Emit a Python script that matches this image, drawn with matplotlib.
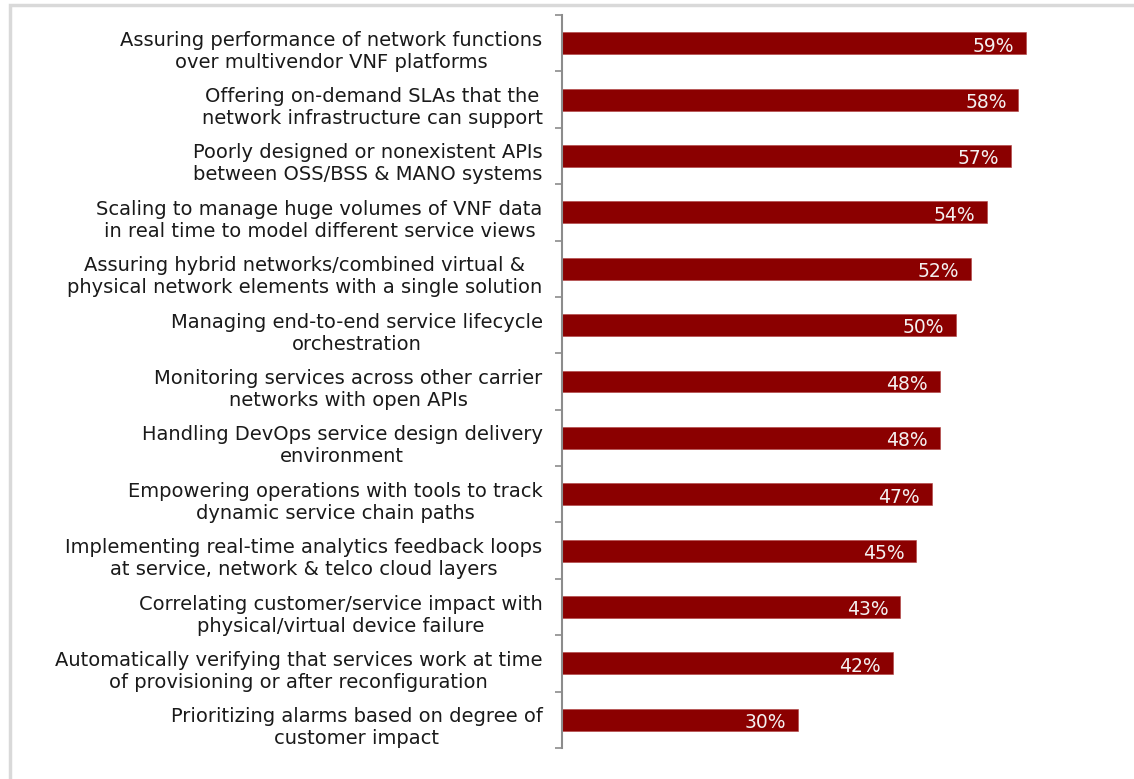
import numpy as np
import matplotlib.pyplot as plt
from matplotlib.patches import Rectangle

labels = [
    'Assuring performance of network functions\nover multivendor VNF platforms',
    'Offering on-demand SLAs that the\nnetwork infrastructure can support',
    'Poorly designed or nonexistent APIs\nbetween OSS/BSS & MANO systems',
    'Scaling to manage huge volumes of VNF data\nin real time to model different service views',
    'Assuring hybrid networks/combined virtual &\nphysical network elements with a single solution',
    'Managing end-to-end service lifecycle\norchestration',
    'Monitoring services across other carrier\nnetworks with open APIs',
    'Handling DevOps service design delivery\nenvironment',
    'Empowering operations with tools to track\ndynamic service chain paths',
    'Implementing real-time analytics feedback loops\nat service, network & telco cloud layers',
    'Correlating customer/service impact with\nphysical/virtual device failure',
    'Automatically verifying that services work at time\nof provisioning or after reconfiguration',
    'Prioritizing alarms based on degree of\ncustomer impact',
]
values = [59, 58, 57, 54, 52, 50, 48, 48, 47, 45, 43, 42, 30]

W, H = 1134, 779
fig = plt.figure(figsize=(W / 100, H / 100), dpi=100)

# light grey frame on top and left
fig.add_artist(Rectangle((10 / W, -0.01), 1.2, 1 - 5 / H + 0.01, transform=fig.transFigure,
                         fill=False, edgecolor='#d9d9d9', linewidth=2.5))

x0, x1 = 562, 562 + 7.87 * 70
ytop, ybot = 15, 748
ax = fig.add_axes([x0 / W, 1 - ybot / H, (x1 - x0) / W, (ybot - ytop) / H])

y = np.arange(len(values))
ax.barh(y, values, height=0.39, color='#8B0000', edgecolor='#b04040', linewidth=0.4)
ax.set_xlim(0, 70)
ax.set_ylim(len(values) - 0.5, -0.5)

for yi, v in zip(y, values):
    ax.text(v - 1.5, yi + 0.05, '{}%'.format(v), color='#f4f0f0', ha='right', va='center',
            fontsize=13.5)

# labels sit a little below the bar centre, as in the original
ax.set_yticks(y + 0.08)
ax.set_yticklabels(labels, fontsize=14, color='#1a1a1a', ha='right',
                   multialignment='center', linespacing=1.2)
ax.tick_params(axis='y', which='major', length=0, pad=14)
ax.set_yticks(np.arange(len(values) + 1) - 0.5, minor=True)
ax.tick_params(axis='y', which='minor', length=5, width=1.2, color='#8c8c8c')
ax.set_xticks([])
for s in ['top', 'right', 'bottom']:
    ax.spines[s].set_visible(False)
ax.spines['left'].set_color('#8c8c8c')
ax.spines['left'].set_linewidth(1.5)

fig.savefig('out.png', dpi=100)
